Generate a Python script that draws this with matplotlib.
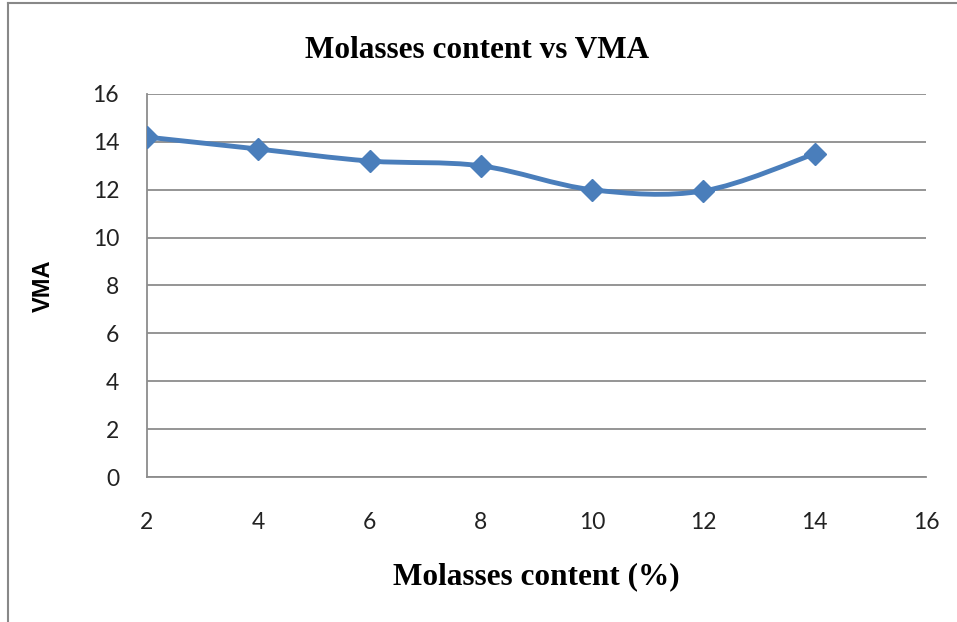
import matplotlib
matplotlib.use('Agg')
import matplotlib.pyplot as plt
from matplotlib.path import Path
from matplotlib.patches import PathPatch
from matplotlib.lines import Line2D

# data
molasses = [2, 4, 6, 8, 10, 12, 14]
vma = [14.2, 13.7, 13.2, 13.0, 12.0, 11.95, 13.5]
x_ticks = [2, 4, 6, 8, 10, 12, 14, 16]
y_ticks = [0, 2, 4, 6, 8, 10, 12, 14, 16]

blue = '#4a7ebb'
grid_c = '#8c8c8c'


def smooth_path(xs, ys):
    # cubic bezier through the points, like Excel's "smoothed line"
    pts = list(zip(xs, ys))
    verts = [pts[0]]
    codes = [Path.MOVETO]
    n = len(pts)
    for i in range(n - 1):
        p0 = pts[i - 1] if i > 0 else pts[i]
        p1 = pts[i]
        p2 = pts[i + 1]
        p3 = pts[i + 2] if i + 2 < n else pts[i + 1]
        c1 = (p1[0] + (p2[0] - p0[0]) / 6, p1[1] + (p2[1] - p0[1]) / 6)
        c2 = (p2[0] - (p3[0] - p1[0]) / 6, p2[1] - (p3[1] - p1[1]) / 6)
        verts += [c1, c2, p2]
        codes += [Path.CURVE4] * 3
    return Path(verts, codes)


fig = plt.figure(figsize=(9.57, 6.22), dpi=100)
ax = fig.add_axes([0.1536, 0.2331, 0.8140, 0.6158])

ax.add_patch(PathPatch(smooth_path(molasses, vma), facecolor='none',
                       edgecolor=blue, lw=3.5, capstyle='round', zorder=3))
ax.plot(molasses, vma, ls='none', marker='D', ms=11, color=blue, zorder=4)

ax.set_xlim(2, 16)
ax.set_ylim(0, 16)
ax.set_xticks(x_ticks)
ax.set_yticks(y_ticks)
ax.tick_params(length=0, labelsize=16.5)
ax.tick_params(axis='x', pad=25)
ax.tick_params(axis='y', pad=20)
for lab in ax.get_xticklabels() + ax.get_yticklabels():
    lab.set_family('Lato')
    lab.set_color('#222222')
ax.yaxis.grid(True, color=grid_c, lw=1.3)
ax.set_axisbelow(True)
for s in ['top', 'right']:
    ax.spines[s].set_visible(False)
for s in ['left', 'bottom']:
    ax.spines[s].set_color(grid_c)
    ax.spines[s].set_linewidth(1.3)

ax.set_ylabel('VMA', fontsize=17, fontweight='bold', family='Liberation Sans', labelpad=27)
ax.set_xlabel('Molasses content (%)', fontsize=22.5, fontweight='bold',
              family='Liberation Serif', labelpad=21)
fig.text(0.499, 1 - 50 / 622, 'Molasses content vs VMA', fontsize=22.5, fontweight='bold',
         family='Liberation Serif', ha='center', va='center')

# outer chart frame (cropped on right and bottom)
fig.add_artist(Line2D([8 / 957, 8 / 957], [0, 1 - 3 / 622], color='#888888', lw=1.5))
fig.add_artist(Line2D([8 / 957, 1], [1 - 3 / 622, 1 - 3 / 622], color='#888888', lw=1.5))

fig.savefig('out.png', dpi=100)
